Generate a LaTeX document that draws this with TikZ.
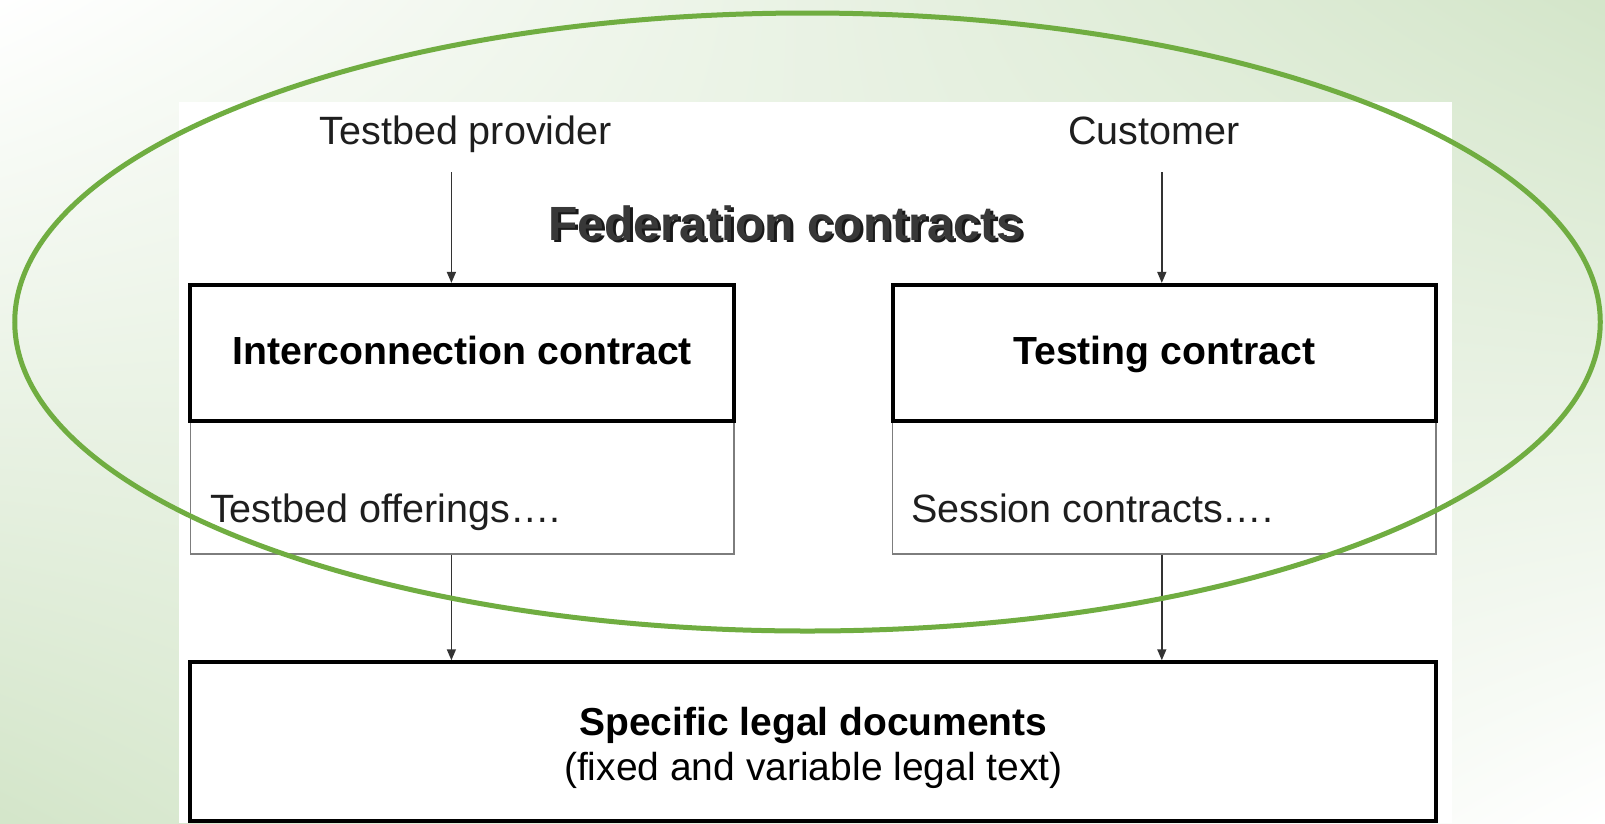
\documentclass[tikz,border=0pt]{standalone}
\usepackage{fontspec}
\setmainfont{Liberation Sans}
\usetikzlibrary{arrows.meta,shapes.geometric}
\pgfdeclarefunctionalshading{bgbilin}{\pgfpoint{0bp}{0bp}}{\pgfpoint{100bp}{100bp}}{}{
 25 sub 50 div dup 0 lt {pop 0} if dup 1 gt {pop 1} if
 exch 25 sub 50 div dup 0 lt {pop 0} if dup 1 gt {pop 1} if
 2 copy mul 3 1 roll 1 exch sub exch 1 exch sub mul add
 dup 0.17 mul 1 exch sub exch
 dup 0.10 mul 1 exch sub exch
 0.21 mul 1 exch sub
}
\definecolor{fedgreen}{RGB}{112,173,65}
\definecolor{txt}{RGB}{30,30,30}
\definecolor{thin}{RGB}{125,125,125}
\begin{document}
\begin{tikzpicture}[x=1pt,y=-1pt,
  lbl/.style={inner sep=0pt,text=txt,font=\fontsize{39.5}{46}\selectfont},
  topbox/.style={draw=black,line width=4pt,fill=white,inner sep=0pt,
    minimum width=543.6pt,minimum height=136.2pt,text=black,
    text height=28pt,text depth=6pt,
    font=\fontsize{39.2}{46}\selectfont\bfseries},
  lowbox/.style={draw=thin,line width=1.5pt,fill=white,inner sep=0pt,
    minimum width=543.6pt,minimum height=135.1pt},
  arr/.style={draw=black!80,line width=1.5pt,-{Triangle[length=11pt,width=9pt]}},
  ttl/.style={inner sep=0pt,font=\fontsize{48}{56}\selectfont\bfseries}]
\useasboundingbox (0,0) rectangle (1605,823);
\shade[shading=bgbilin] (0,0) rectangle (1605,823);
\fill[white] (179,102) rectangle (1451.5,823);
% upper boxes
\node[lowbox] (lb) at (462.2,486.2) {};
\node[lowbox] (rb) at (1164.3,486.2) {};
\node[topbox] (lt) at (462.2,353) {Interconnection contract};
\node[topbox] (rt) at (1164.3,353) {Testing contract};
\node[lbl,anchor=base west] (lbt) at (209.8,522) {Testbed offerings….};
\node[lbl,anchor=base west] (rbt) at (911,522) {Session contracts….};
% bottom box
\node[draw=black,line width=4pt,fill=white,inner sep=0pt,minimum width=1245.6pt,
  minimum height=158.7pt,text=black] (bot) at (813.2,741.6) {};
\node[inner sep=0pt,align=center,text=black,font=\fontsize{39}{45.5}\selectfont]
  (bott) at (813.4,748) {\bfseries Specific legal documents\\(fixed and variable legal text)};
% top labels
\node[lbl,anchor=base] (tp) at (465.7,144.3) {Testbed provider};
\node[lbl,anchor=base] (cu) at (1153.6,144.3) {Customer};
\coordinate (a1) at (451.4,172);
\coordinate (a2) at (1161.8,172);
\draw[arr] (a1) -- (a1 |- lt.north);
\draw[arr] (a2) -- (a2 |- rt.north);
\draw[arr] (a1 |- lb.south) -- (a1 |- bot.north);
\draw[arr] (a2 |- rb.south) -- (a2 |- bot.north);
% title
\node[ttl,text=black!90] (ttlsh) at (788.5,225.5) {Federation contracts};
\node[ttl,text=black!78] (ttl) at (786,223) {Federation contracts};
% ellipse
\node[draw=fedgreen,line width=5pt,ellipse,inner sep=0pt,
  minimum width=1585.5pt,minimum height=618pt] (fed) at (807.5,322) {};
\end{tikzpicture}
\end{document}
